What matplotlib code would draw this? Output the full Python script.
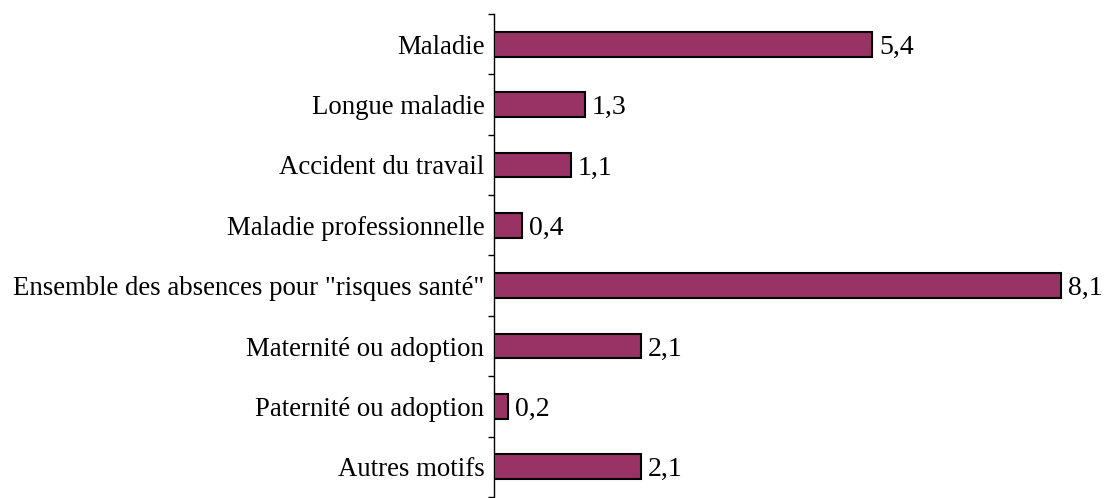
import matplotlib
matplotlib.use("Agg")
import matplotlib.pyplot as plt
import numpy as np

categories = ["Maladie", "Longue maladie", "Accident du travail", "Maladie professionnelle",
              "Ensemble des absences pour \"risques santé\"", "Maternité ou adoption",
              "Paternité ou adoption", "Autres motifs"]
values = [5.4, 1.3, 1.1, 0.4, 8.1, 2.1, 0.2, 2.1]

plt.rcParams['font.family'] = ['Liberation Serif', 'DejaVu Serif']

W, H = 1107, 498
fig = plt.figure(figsize=(W / 100, H / 100), dpi=100)
left = 494 / W
top = 14 / H
bottom = 1 / H
ax = fig.add_axes([left, bottom, 1 - left, 1 - top - bottom])

y = np.arange(len(categories))
ax.barh(y, values, height=0.41, color="#993366", edgecolor="black", linewidth=1.5, zorder=3)
ax.set_ylim(len(categories) - 0.5, -0.5)
ax.set_xlim(0, (W - 494) / 70)

for yi, v in zip(y, values):
    ax.text(v + 0.1, yi, f"{v:.1f}".replace(".", ","), va="center_baseline", ha="left",
            fontsize=20, clip_on=False)

ax.set_yticks(y)
ax.set_yticklabels(categories, fontsize=19.3, va="center_baseline")
ax.set_yticks(np.arange(-0.5, len(categories), 1), minor=True)
ax.tick_params(axis="y", which="major", length=0, pad=7)
ax.tick_params(axis="y", which="minor", length=4.5, width=1, direction="out")
ax.set_xticks([])
for s in ["top", "right", "bottom"]:
    ax.spines[s].set_visible(False)
ax.spines["left"].set_linewidth(1)
ax.patch.set_alpha(0)

fig.savefig("out.png", dpi=100)
